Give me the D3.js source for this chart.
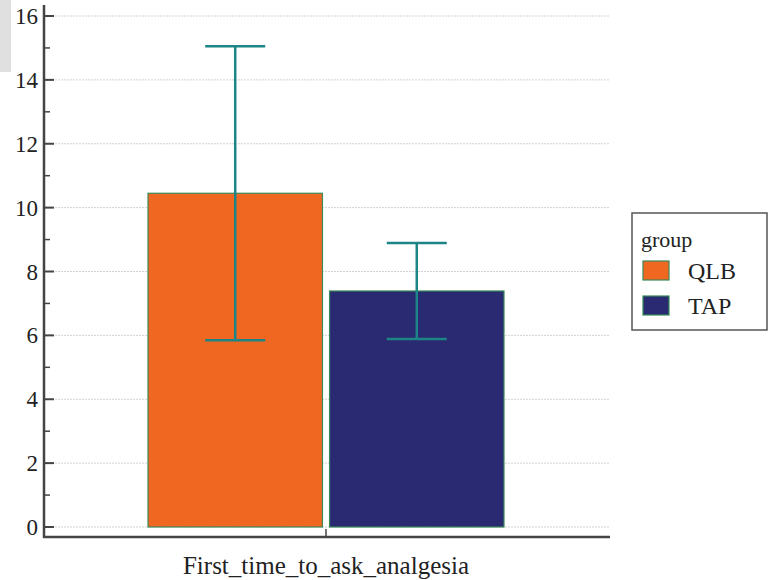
<!DOCTYPE html>
<html>
<head>
<meta charset="utf-8">
<script src="https://cdn.jsdelivr.net/npm/d3@7"></script>
<style>
  html, body { margin: 0; padding: 0; background: #fff; }
  svg { display: block; }
  svg text { font-family: "Liberation Serif", "DejaVu Serif", serif; }
</style>
</head>
<body>
<svg id="chart" width="770" height="580"></svg>
<script>
// Data
const categories = ["First_time_to_ask_analgesia"];
const groups = ["QLB", "TAP"];
const means = [10.45, 7.39];
const errors = [4.6, 1.5];
const yTicks = [0, 2, 4, 6, 8, 10, 12, 14, 16];
const colors = ["#f06722", "#2a2a72"];

const svg = d3.select("#chart");

// Light panel in the top-left corner
svg.append("rect").attr("x", 0).attr("y", 0).attr("width", 11).attr("height", 72).attr("fill", "#e0e0e0");

const plotLeft = 44, plotRight = 610, plotBottom = 537;

const y = d3.scaleLinear().domain([0, 16]).range([527, 16]);
const x = d3.scaleBand().domain(categories).range([148, 504]).padding(0);
const xg = d3.scaleBand().domain(groups).range([0, x.bandwidth()]).paddingInner(0.039);

// Grid lines
svg.append("g").selectAll("line").data(yTicks).join("line")
  .attr("x1", 55).attr("x2", plotRight)
  .attr("y1", d => y(d)).attr("y2", d => y(d))
  .attr("stroke", "#d2d2d2").attr("stroke-width", 1).attr("stroke-dasharray", "2,1");

// Bars
const rows = groups.map((g, i) => ({ group: g, mean: means[i], err: errors[i], color: colors[i] }));
const barG = svg.append("g").attr("transform", `translate(${x(categories[0])},0)`);
barG.selectAll("rect").data(rows).join("rect")
  .attr("x", d => xg(d.group))
  .attr("y", d => y(d.mean))
  .attr("width", xg.bandwidth())
  .attr("height", d => y(0) - y(d.mean))
  .attr("fill", d => d.color)
  .attr("stroke", "#3a8a5a").attr("stroke-width", 1.2);

// Error bars
const capHalf = 30;
const eb = barG.selectAll("g.eb").data(rows).join("g").attr("class", "eb")
  .attr("stroke", "#1d8585").attr("stroke-width", 2.5);
const cx = d => xg(d.group) + xg.bandwidth() / 2;
eb.append("line")
  .attr("x1", cx).attr("x2", cx)
  .attr("y1", d => y(d.mean + d.err)).attr("y2", d => y(d.mean - d.err));
eb.append("line")
  .attr("x1", d => cx(d) - capHalf).attr("x2", d => cx(d) + capHalf)
  .attr("y1", d => y(d.mean + d.err)).attr("y2", d => y(d.mean + d.err));
eb.append("line")
  .attr("x1", d => cx(d) - capHalf).attr("x2", d => cx(d) + capHalf)
  .attr("y1", d => y(d.mean - d.err)).attr("y2", d => y(d.mean - d.err));

// Y axis
const yAxis = svg.append("g").attr("transform", `translate(${plotLeft},0)`);
yAxis.append("line").attr("x1", 0).attr("x2", 0).attr("y1", 5).attr("y2", plotBottom + 1)
  .attr("stroke", "#444").attr("stroke-width", 2.5);
yAxis.selectAll("line.major").data(yTicks).join("line").attr("class", "major")
  .attr("x1", 0).attr("x2", 10).attr("y1", d => y(d)).attr("y2", d => y(d))
  .attr("stroke", "#444").attr("stroke-width", 2);
const minorTicks = d3.range(1, 16, 2);
yAxis.selectAll("line.minor").data(minorTicks).join("line").attr("class", "minor")
  .attr("x1", 0).attr("x2", 6).attr("y1", d => y(d)).attr("y2", d => y(d))
  .attr("stroke", "#444").attr("stroke-width", 1.5);
yAxis.selectAll("text").data(yTicks).join("text")
  .attr("x", -6).attr("y", d => y(d)).attr("dy", "0.35em")
  .attr("text-anchor", "end").attr("font-size", 23).attr("fill", "#222").text(d => d);

// X axis
svg.append("line").attr("x1", plotLeft - 1).attr("x2", plotRight).attr("y1", plotBottom).attr("y2", plotBottom)
  .attr("stroke", "#444").attr("stroke-width", 2.5);
svg.selectAll("line.xtick").data(categories).join("line").attr("class", "xtick")
  .attr("x1", d => x(d) + x.bandwidth() / 2).attr("x2", d => x(d) + x.bandwidth() / 2)
  .attr("y1", plotBottom).attr("y2", plotBottom - 8)
  .attr("stroke", "#444").attr("stroke-width", 1.5);
svg.selectAll("text.xlabel").data(categories).join("text").attr("class", "xlabel")
  .attr("x", d => x(d) + x.bandwidth() / 2).attr("y", 574)
  .attr("text-anchor", "middle").attr("font-size", 25).attr("fill", "#222").text(d => d);

// Legend
const lg = svg.append("g").attr("transform", "translate(632,213)");
lg.append("rect").attr("x", 0).attr("y", 0).attr("width", 135).attr("height", 117)
  .attr("fill", "#fff").attr("stroke", "#555").attr("stroke-width", 1.5);
lg.append("text").attr("x", 9).attr("y", 34).attr("font-size", 22).attr("fill", "#222").text("group");
const items = lg.selectAll("g.item").data(rows).join("g").attr("class", "item")
  .attr("transform", (d, i) => `translate(11,${48 + i * 35})`);
items.append("rect").attr("width", 26).attr("height", 19)
  .attr("fill", d => d.color).attr("stroke", "#3a8a5a").attr("stroke-width", 1.2);
items.append("text").attr("x", 45).attr("y", 18).attr("font-size", 24).attr("fill", "#222").text(d => d.group);
</script>
</body>
</html>
